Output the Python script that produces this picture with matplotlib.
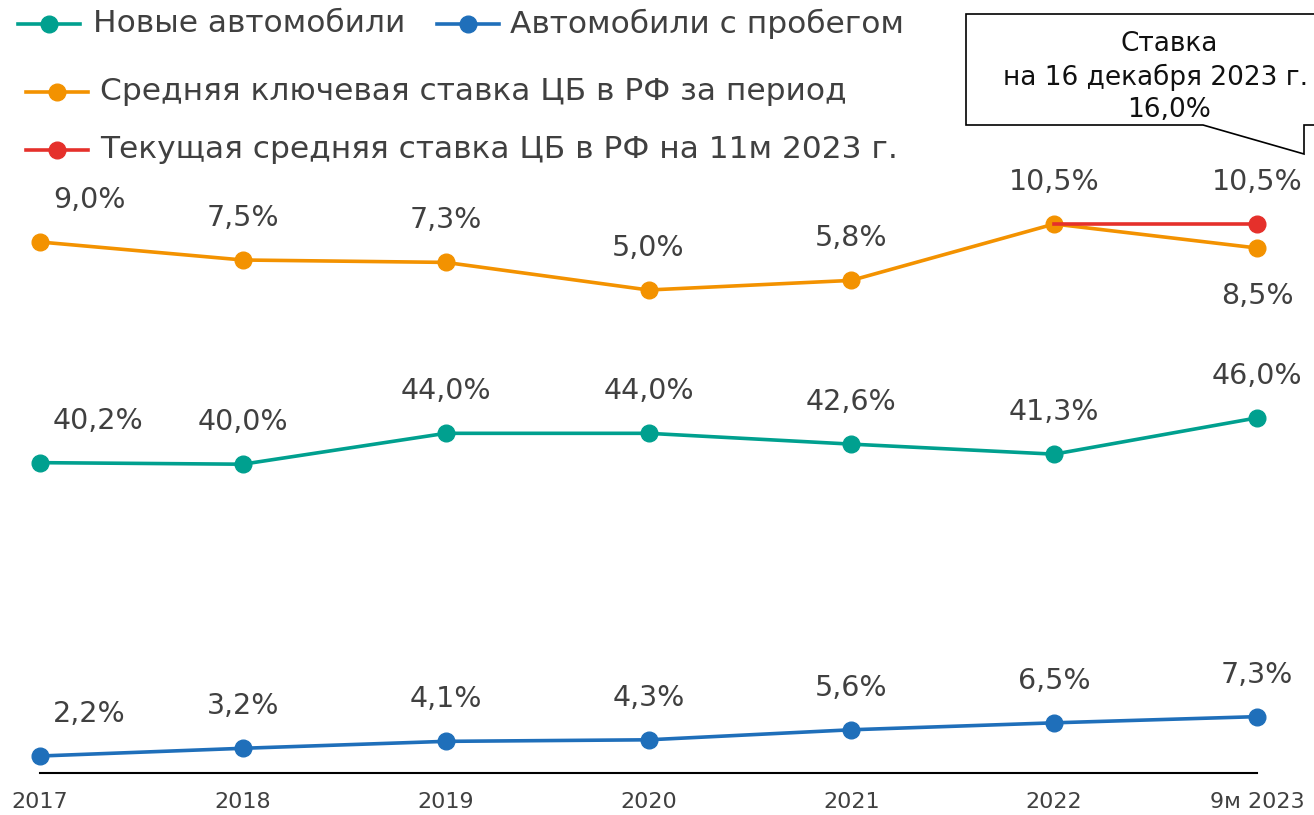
import matplotlib.pyplot as plt
import matplotlib.patches as mpatches
from matplotlib.lines import Line2D
import numpy as np

plt.rcParams["font.family"] = ["DejaVu Sans"]

# ── Data ──────────────────────────────────────────────────────────────────────
periods = ["2017", "2018", "2019", "2020", "2021", "2022", "9м 2023"]
new_cars = [40.2, 40.0, 44.0, 44.0, 42.6, 41.3, 46.0]
used_cars = [2.2, 3.2, 4.1, 4.3, 5.6, 6.5, 7.3]
key_rate_avg = [9.0, 7.5, 7.3, 5.0, 5.8, 10.5, 8.5]
key_rate_now = [np.nan, np.nan, np.nan, np.nan, np.nan, 10.5, 10.5]

names = ["Новые автомобили", "Автомобили с пробегом",
         "Средняя ключевая ставка ЦБ в РФ за период",
         "Текущая средняя ставка ЦБ в РФ на 11м 2023 г."]
callout_lines = ["Ставка", "на 16 декабря 2023 г.", "16,0%"]

C_NEW, C_USED, C_AVG, C_NOW = "#00A08F", "#1F6FBA", "#F39200", "#E5302B"
TXT = "#404040"

W, H = 1314, 815
fig = plt.figure(figsize=(W / 100, H / 100), dpi=100)

def fx(x):
    return x / W

def fy(y):
    return 1 - y / H

# axes: x from 40 to 1257 px, bottom 773 px, top 180 px
ax = fig.add_axes([fx(40), fy(773), (1257 - 40) / W, (773 - 180) / H])
ax2 = ax.twinx()
x = np.arange(len(periods))

ax.set_xlim(0, 6)
ax.set_ylim(0, 593 / 7.72)
ax2.set_ylim(-(773 - 350) / 12, (350 - 180) / 12)

lw, ms = 2.6, 12
ax.plot(x, new_cars, color=C_NEW, lw=lw, marker="o", ms=ms, clip_on=False, zorder=3)
ax.plot(x, used_cars, color=C_USED, lw=lw, marker="o", ms=ms, clip_on=False, zorder=3)
ax2.plot(x, key_rate_avg, color=C_AVG, lw=lw, marker="o", ms=ms, clip_on=False, zorder=3)
ax2.plot(x, key_rate_now, color=C_NOW, lw=lw, marker="o", ms=ms, markevery=[6],
         clip_on=False, zorder=4)

for a in (ax, ax2):
    for s in ("top", "right", "left"):
        a.spines[s].set_visible(False)
    a.set_yticks([])
ax.spines["bottom"].set_color("black")
ax.spines["bottom"].set_linewidth(1.5)
ax2.spines["bottom"].set_visible(False)
ax.set_xticks(x)
ax.set_xticklabels(periods, fontsize=16, color=TXT)
ax.tick_params(axis="x", length=0, pad=14)

FS = 20.5

def label(a, xi, v, dy, left=False):
    a.annotate(f"{v:.1f}%".replace(".", ","), (xi, v),
               xytext=(13 if left else 0, dy), textcoords="offset pixels",
               ha="left" if left else "center", va="center",
               fontsize=FS, color=TXT, annotation_clip=False)

for i in range(len(periods)):
    label(ax, i, new_cars[i], 42, left=(i == 0))
    label(ax, i, used_cars[i], 42, left=(i == 0))
    if i < 6:
        label(ax2, i, key_rate_avg[i], 42, left=(i == 0))
label(ax2, 6, key_rate_avg[6], -48)
label(ax2, 6, key_rate_now[6], 42)

# ── Legend ────────────────────────────────────────────────────────────────────
legend_items = [
    (C_NEW, 18, 24, 93, names[0]),
    (C_USED, 437, 24, 510, names[1]),
    (C_AVG, 26, 92, 100, names[2]),
    (C_NOW, 26, 150, 100, names[3]),
]
for col, x0, y0, tx, txt in legend_items:
    fig.add_artist(Line2D([fx(x0), fx(x0 + 62)], [fy(y0), fy(y0)],
                          transform=fig.transFigure, color=col, lw=lw))
    fig.add_artist(Line2D([fx(x0 + 31)], [fy(y0)], transform=fig.transFigure,
                          color=col, marker="o", ms=ms))
    fig.text(fx(tx), fy(y0), txt, fontsize=22.5, color=TXT, va="center", ha="left")

# ── Callout ───────────────────────────────────────────────────────────────────
verts = [(966, 14), (1330, 14), (1330, 125), (1304, 125), (1304, 154),
         (1203, 125), (966, 125)]
poly = mpatches.Polygon([(fx(a), fy(b)) for a, b in verts], closed=True,
                        transform=fig.transFigure, facecolor="white",
                        edgecolor="black", lw=1.2)
fig.add_artist(poly)
for (cx, cy), line in zip([(1169, 44), (1156, 77), (1169, 110)], callout_lines):
    fig.text(fx(cx), fy(cy), line, fontsize=19, color="#111111",
             ha="center", va="center")

fig.savefig("out.png", dpi=100)
